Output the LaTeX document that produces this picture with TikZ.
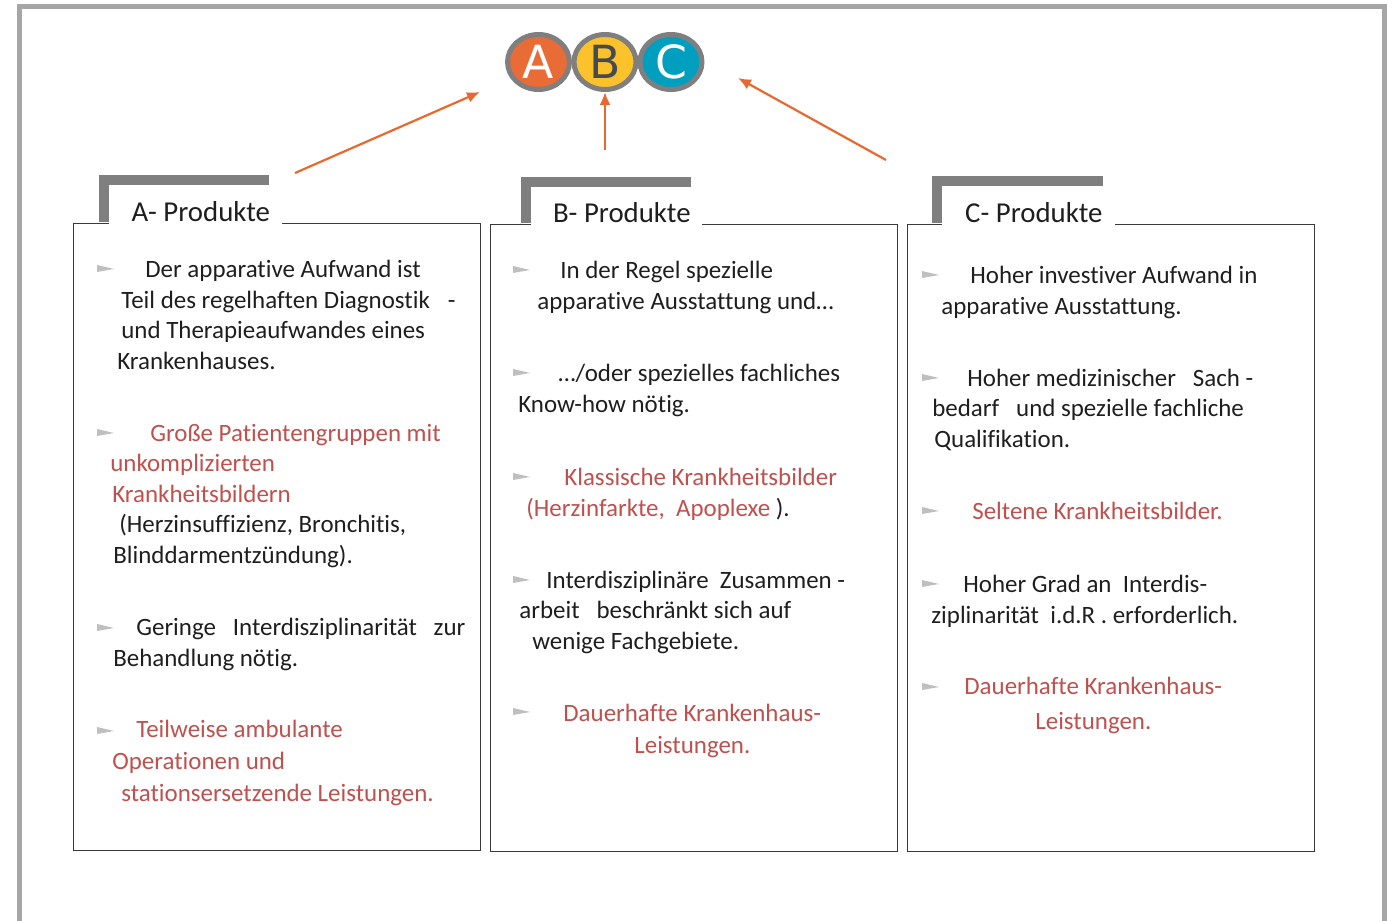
\documentclass[tikz,border=0pt]{standalone}
\usepackage{fontspec}
\setmainfont[Ligatures=NoCommon]{Carlito}
\newfontfamily\abcfont{DejaVu Sans}
\usetikzlibrary{arrows.meta,shapes.geometric}
\newlength\pxu
\setlength\pxu{0.02cm}
\definecolor{framegray}{HTML}{A6A6A6}
\definecolor{bracketgray}{HTML}{7F7F7F}
\definecolor{boxline}{HTML}{3A3A3A}
\definecolor{redtext}{HTML}{C0504D}
\definecolor{bodytext}{HTML}{1E1E1E}
\definecolor{abcA}{HTML}{E96B36}
\definecolor{abcB}{HTML}{FBC22B}
\definecolor{abcC}{HTML}{009FBF}
\definecolor{letterB}{HTML}{454B50}
\definecolor{arroworange}{HTML}{E8692F}
\newcommand{\rd}[1]{\textcolor{redtext}{#1}}
\newcommand{\ind}[1]{\hspace*{#1\pxu}}

\begin{document}
\begin{tikzpicture}[
    x=0.02cm, y=-0.02cm,
    every node/.style={font=\fontsize{14.2}{17.36}\selectfont, text=bodytext},
    prodbox/.style={draw=boxline, line width=0.026cm, anchor=north west, inner sep=0pt, minimum width=8.14cm, minimum height=12.54cm},
    tab/.style={fill=white, inner ysep=0.1cm, inner xsep=0pt, text depth=0pt, anchor=south west, minimum width=3.46cm, font=\fontsize{16.4}{19}\selectfont},
    bracketline/.style={draw=bracketgray, line width=0.2cm},
    abc/.style={ellipse, draw=bracketgray, line width=0.1cm, minimum width=1.24cm, minimum height=1.1cm, inner sep=0pt, font=\abcfont\fontsize{26}{26}\selectfont, text=white},
    link/.style={draw=arroworange, line width=0.044cm, -{Latex[length=0.26cm, width=0.22cm]}},
    item/.style={anchor=base west, inner sep=0pt, align=left},
    bul/.style={fill=gray!50}
]
\useasboundingbox (0,0) rectangle (1396,920);
% outer frame
\draw[draw=framegray, line width=0.1cm] (19.5,6) rectangle (1384.5,930);

% product boxes
\node[prodbox] (boxA) at (73,223) {};
\node[prodbox] (boxB) at (490,224) {};
\node[prodbox] (boxC) at (907,224) {};

% tabs
\draw[bracketline] (103.5,222) |- (269,180);
\draw[bracketline] (525.5,223) |- (691,182);
\draw[bracketline] (936.5,223) |- (1103,180.5);
\node[tab] (tabA) at (109,227) {\hspace{10\pxu}A- Produkte};
\node[tab, minimum width=3.42cm] (tabB) at (531,228) {\hspace{10\pxu}B- Produkte};
\node[tab] (tabC) at (942,228) {\hspace{10\pxu}C- Produkte};

% ABC circles
\node[abc, fill=abcA] (circA) at (538.5,62) {A};
\node[abc, fill=abcB, text=letterB] (circB) at (605,62) {B};
\node[abc, fill=abcC] (circC) at (671,62) {C};

% arrows
\coordinate (aStart) at (295,173);
\coordinate (aEnd) at (480,92);
\coordinate (bStart) at (605,150);
\coordinate (cStart) at (886,160);
\coordinate (cEnd) at (738,78);
\draw[link] (aStart) -- (aEnd);
\draw[link] (bStart) -- (circB.south);
\draw[link] (cStart) -- (cEnd);

% bullets
\foreach \bx/\by in {105/269, 105/433, 105/628, 105/731,
                     521/270, 521/373, 521/477, 521/580, 521/712,
                     930/275, 930/378, 930/511, 930/584, 930/687}
  \fill[bul] (\bx-8,\by-4) -- (\bx+9,\by) -- (\bx-8,\by+3) -- cycle;

% A-Produkte (nodes sit on the baseline of their last line)
\node[item] (a1) at (117,369) {\ind{28}Der apparative Aufwand ist\\
  \ind{4}Teil des regelhaften Diagnostik\hspace{18\pxu}-\\
  \ind{4}und Therapieaufwandes eines\\
  Krankenhauses.};
\node[item] (a2) at (110,563) {\ind{40}\rd{Große Patientengruppen mit}\\
  \rd{unkomplizierten}\\
  \ind{2}\rd{Krankheitsbildern}\\
  \ind{9}(Herzinsuffizienz, Bronchitis,\\
  \ind{3}Blinddarmentzündung).};
\node[item] (a3) at (113,666) {\ind{23}\makebox[329\pxu][s]{Geringe Interdisziplinarität zur}\\
  Behandlung nötig.};
\node[item] (a4) at (112,801) {\ind{24}\rd{Teilweise ambulante}\\[0.6pt]
  \rd{Operationen und}\\[0.6pt]
  \ind{9}\rd{stationsersetzende Leistungen.}};

% B-Produkte
\node[item] (b1) at (537,309) {\ind{23}In der Regel spezielle\\
  apparative Ausstattung und…};
\node[item] (b2) at (518,412) {\ind{40}…/oder spezielles fachliches\\
  Know-how nötig.};
\node[item] (b3) at (526,516) {\ind{38}\rd{Klassische Krankheitsbilder}\\
  \rd{(Herzinfarkte,\ \ Apoplexe} ).};
\node[item] (b4) at (519,649) {\ind{27}Interdisziplinäre\ \ Zusammen -\\
  arbeit\ \ \ beschränkt sich auf\\
  \ind{13}wenige Fachgebiete.};
\node[item] (b5) at (563,753) {\rd{Dauerhafte Krankenhaus-}\\[0.6pt]
  \ind{71}\rd{Leistungen.}};

% C-Produkte
\node[item] (c1) at (941,314) {\ind{29}Hoher investiver Aufwand in\\
  apparative Ausstattung.};
\node[item] (c2) at (932,447) {\ind{35}Hoher medizinischer\ \ \ Sach -\\
  bedarf\ \ \ und spezielle fachliche\\
  \ind{2}Qualifikation.};
\node[item] (c3) at (972,519) {\rd{Seltene Krankheitsbilder.}};
\node[item] (c4) at (931,623) {\ind{32}Hoher Grad an\ \ Interdis-\\
  ziplinarität\ \ i.d.R . erforderlich.};
\node[item] (c5) at (964,729) {\rd{Dauerhafte Krankenhaus-}\\[2pt]
  \ind{71}\rd{Leistungen.}};
\end{tikzpicture}
\end{document}
